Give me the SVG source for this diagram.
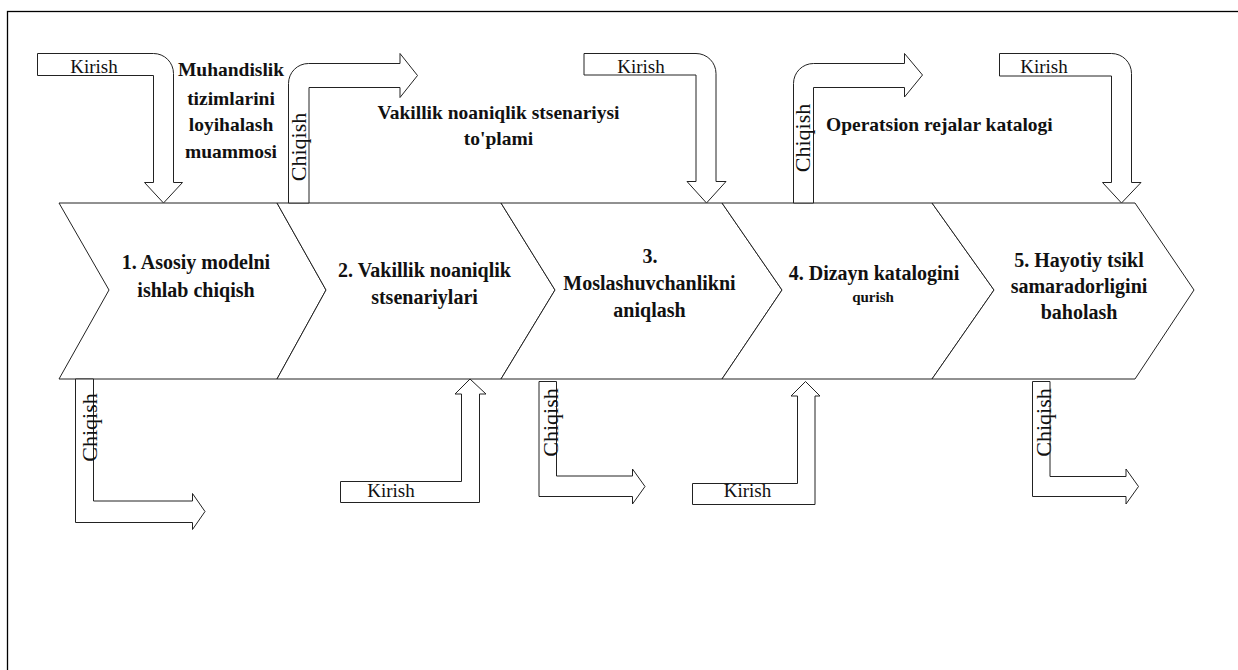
<svg xmlns="http://www.w3.org/2000/svg" width="1238" height="670" viewBox="0 0 1238 670">
  <style>
    .frame { fill: none; stroke: #000; stroke-width: 1.3; }
    .step { fill: #fff; stroke: #222; stroke-width: 1; stroke-linejoin: miter; }
    .flow { fill: #fff; stroke: #222; stroke-width: 1; }
    .step-text { font-family: "Liberation Serif", "Times New Roman", serif; font-weight: bold; font-size: 20px; fill: #111; text-anchor: middle; }
    .step-small { font-size: 15px; }
    .note { font-family: "Liberation Serif", "Times New Roman", serif; font-weight: bold; font-size: 19.5px; fill: #111; }
    .io { font-family: "Liberation Serif", "Times New Roman", serif; font-size: 19px; fill: #111; text-anchor: middle; }
    .io-v { font-family: "Liberation Serif", "Times New Roman", serif; font-size: 22px; fill: #111; text-anchor: middle; }
  </style>

  <rect x="0" y="0" width="1238" height="670" fill="#fff"/>
  <!-- page frame (continues past the right and bottom edges) -->
  <rect class="frame" x="7.5" y="11.5" width="1240" height="680"/>

  <!-- process steps -->
  <g id="step1">
    <polygon class="step" points="59,203 277,203 326,290 277,379 59,379 109,290"/>
    <text class="step-text" x="196" y="269">1. Asosiy modelni</text>
    <text class="step-text" x="196" y="297">ishlab chiqish</text>
  </g>
  <g id="step2">
    <polygon class="step" points="277,203 501,203 555,290 501,379 277,379 326,290"/>
    <text class="step-text" x="424.5" y="277">2. Vakillik noaniqlik</text>
    <text class="step-text" x="424.5" y="304">stsenariylari</text>
  </g>
  <g id="step3">
    <polygon class="step" points="501,203 722,203 782,290 722,379 501,379 555,290"/>
    <text class="step-text" x="650" y="263">3.</text>
    <text class="step-text" x="649.5" y="290">Moslashuvchanlikni</text>
    <text class="step-text" x="649.5" y="317">aniqlash</text>
  </g>
  <g id="step4">
    <polygon class="step" points="722,203 932,203 994,290 932,379 722,379 782,290"/>
    <text class="step-text" x="874" y="280">4. Dizayn katalogini</text>
    <text class="step-text step-small" x="873" y="302">qurish</text>
  </g>
  <g id="step5">
    <polygon class="step" points="932,203 1135,203 1194,290 1135,379 932,379 994,290"/>
    <text class="step-text" x="1079" y="267">5. Hayotiy tsikl</text>
    <text class="step-text" x="1079" y="293">samaradorligini</text>
    <text class="step-text" x="1079" y="319">baholash</text>
  </g>

  <!-- inputs and outputs -->
  <g id="connectors">
    <!-- top inputs: bent arrows coming down into the steps -->
    <g id="in-top-1">
      <path class="flow" d="M37.5,53.5 H153.5 A20,20 0 0 1 173.5,73.5 V182.5 H182.5 L163.5,203 L144.5,182.5 H153.5 V75.5 H37.5 Z"/>
      <text class="io" x="94" y="73">Kirish</text>
    </g>
    <g id="in-top-3">
      <path class="flow" d="M584,53.5 H696 A20,20 0 0 1 716,73.5 V181.5 H726 L706.5,203 L687,181.5 H696 V75 H584 Z"/>
      <text class="io" x="641" y="73">Kirish</text>
    </g>
    <g id="in-top-5">
      <path class="flow" d="M999.5,53.5 H1111.5 A20,20 0 0 1 1131.5,73.5 V182.5 H1141 L1121.5,203 L1102.5,182.5 H1111.5 V76 H999.5 Z"/>
      <text class="io" x="1044" y="73">Kirish</text>
    </g>

    <!-- top outputs: bent arrows leaving the steps upwards -->
    <g id="out-top-2">
      <path class="flow" d="M288.5,203 V83.5 A20,20 0 0 1 308.5,63.5 H400 V53.5 L417.5,75.5 L400,97.5 V87.5 H309 V203 Z"/>
      <text class="io-v" transform="translate(306,147) rotate(-90)">Chiqish</text>
    </g>
    <g id="out-top-4">
      <path class="flow" d="M793.5,203 V83.5 A20,20 0 0 1 813.5,63.5 H904.5 V53.5 L922.5,75 L904.5,97 V87.5 H813.5 V203 Z"/>
      <text class="io-v" transform="translate(810,138) rotate(-90)">Chiqish</text>
    </g>

    <!-- bottom outputs -->
    <g id="out-bottom-1">
      <path class="flow" d="M75.5,379 H93.5 V501 H192.5 V493.5 L205,511.5 L192.5,529.5 V522.5 H75.5 Z"/>
      <text class="io-v" transform="translate(97,427.5) rotate(-90)">Chiqish</text>
    </g>
    <g id="out-bottom-3">
      <path class="flow" d="M539,381.5 H556.5 V476 H632.5 V469 L645,486.5 L632.5,504 V496.5 H539 Z"/>
      <text class="io-v" transform="translate(558,422.5) rotate(-90)">Chiqish</text>
    </g>
    <g id="out-bottom-5">
      <path class="flow" d="M1032.5,381.5 H1050 V476.5 H1126 V469 L1138.5,486.5 L1126,504 V496.5 H1032.5 Z"/>
      <text class="io-v" transform="translate(1050.5,422.5) rotate(-90)">Chiqish</text>
    </g>

    <!-- bottom inputs -->
    <g id="in-bottom-2">
      <path class="flow" d="M340.5,481.5 H461.5 V394 H455 L470,379 L486,394 H479.5 V502.5 H340.5 Z"/>
      <text class="io" x="391" y="497">Kirish</text>
    </g>
    <g id="in-bottom-4">
      <path class="flow" d="M692.5,483.5 H797.5 V396 H791 L805.5,381.5 L820,396 H815 V504.5 H692.5 Z"/>
      <text class="io" x="747.5" y="497">Kirish</text>
    </g>
  </g>

  <!-- artefact labels -->
  <g id="labels">
    <text class="note" text-anchor="middle" x="231" y="76">Muhandislik</text>
    <text class="note" text-anchor="middle" x="231" y="105">tizimlarini</text>
    <text class="note" text-anchor="middle" x="231" y="131">loyihalash</text>
    <text class="note" text-anchor="middle" x="231" y="158">muammosi</text>
    <text class="note" text-anchor="middle" x="498.5" y="118.5">Vakillik noaniqlik stsenariysi</text>
    <text class="note" text-anchor="middle" x="498.5" y="145">to'plami</text>
    <text class="note" x="826" y="131">Operatsion rejalar katalogi</text>
  </g>
</svg>
